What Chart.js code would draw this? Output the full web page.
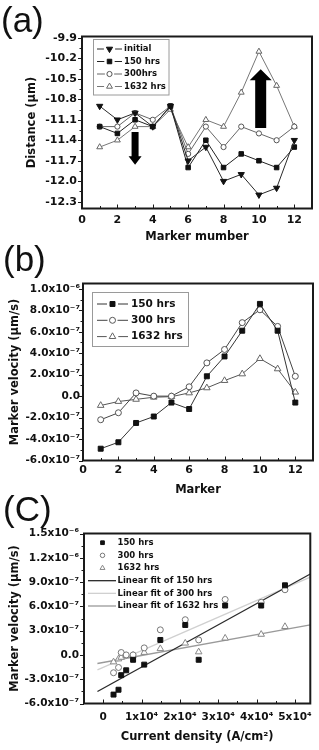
<!DOCTYPE html>
<html>
<head>
<meta charset="utf-8">
<script src="https://cdn.jsdelivr.net/npm/chart.js@4.4.1/dist/chart.umd.min.js"></script>
<style>
  body { margin: 0; background: #fff; }
  #page { position: relative; width: 319px; height: 750px; overflow: hidden; }
  canvas { position: absolute; left: 0; }
  .tag { position: absolute; font-family: "Liberation Sans", Arial, sans-serif; font-size: 35px; line-height: 35px; color: #111; }
</style>
</head>
<body>
<div id="page">
  <canvas id="chartA" width="319" height="245" style="top:0"></canvas>
  <canvas id="chartB" width="319" height="252" style="top:245px"></canvas>
  <canvas id="chartC" width="319" height="253" style="top:497px"></canvas>
  <div class="tag" style="left:1px;top:2px">(a)</div>
  <div class="tag" style="left:3px;top:241px">(b)</div>
  <div class="tag" style="left:3px;top:491px">(C)</div>
</div>
<script>
const font = 'DejaVu Sans';

// panel (a): distance of each marker
const markers = [1, 2, 3, 4, 5, 6, 7, 8, 9, 10, 11, 12];
const distInitial = [-10.9, -11.1, -11.0, -11.2, -10.9, -11.7, -11.5, -12.0, -11.9, -12.2, -12.1, -11.4];
const dist150 = [-11.2, -11.3, -11.1, -11.2, -10.9, -11.8, -11.4, -11.8, -11.6, -11.7, -11.8, -11.5];
const dist300 = [-11.2, -11.2, -11.0, -11.1, -10.9, -11.6, -11.2, -11.5, -11.2, -11.3, -11.4, -11.2];
const dist1632 = [-11.5, -11.4, -11.2, -11.2, -10.95, -11.5, -11.1, -11.2, -10.7, -10.1, -10.6, -11.2];
const xTicksAB = [0, 2, 4, 6, 8, 10, 12];
const yTicksA = [-12.3, -12.0, -11.7, -11.4, -11.1, -10.8, -10.5, -10.2, -9.9];
// the two black arrows, in data units
const arrowsA = [
  { x: 3, from: -11.28, to: -11.76 },
  { x: 10.1, from: -11.22, to: -10.36 }
];

// panel (b): marker velocity
const vel150 = [-4.9e-7, -4.3e-7, -2.5e-7, -1.9e-7, -0.6e-7, -1.2e-7, 1.85e-7, 3.7e-7, 6.1e-7, 8.6e-7, 6.1e-7, -0.6e-7];
const vel300 = [-2.2e-7, -1.55e-7, 0.3e-7, 0, 0, 0.87e-7, 3.1e-7, 4.35e-7, 6.85e-7, 8.05e-7, 6.5e-7, 1.85e-7];
const vel1632 = [-0.87e-7, -0.5e-7, -0.3e-7, -0.1e-7, -0.05e-7, 0.3e-7, 0.77e-7, 1.45e-7, 2.07e-7, 3.5e-7, 2.54e-7, 0.37e-7];
const yTicksB = [-6e-7, -4e-7, -2e-7, 0, 2e-7, 4e-7, 6e-7, 8e-7, 1e-6];
const yLabelsB = ['-6.0x10⁻⁷', '-4.0x10⁻⁷', '-2.0x10⁻⁷', '0.0', '2.0x10⁻⁷', '4.0x10⁻⁷', '6.0x10⁻⁷', '8.0x10⁻⁷', '1.0x10⁻⁶'];

// panel (c): velocity against current density (same markers)
const currentDensity = [2700, 4000, 4700, 6000, 7800, 10700, 14900, 21400, 31800, 47400, 41200, 24900];
const fitX = [-1500, 54000];
const fit150 = [-4.52e-7, 1.0e-6];
const fit300 = [-1.85e-7, 9.6e-7];
const fit1632 = [-1.06e-7, 3.7e-7];
const xTicksC = [0, 1e4, 2e4, 3e4, 4e4, 5e4];
const xLabelsC = ['0', '1x10⁴', '2x10⁴', '3x10⁴', '4x10⁴', '5x10⁴'];
const yTicksC = [-6e-7, -3e-7, 0, 3e-7, 6e-7, 9e-7, 1.2e-6, 1.5e-6];
const yLabelsC = ['-6.0x10⁻⁷', '-3.0x10⁻⁷', '0.0', '3.0x10⁻⁷', '6.0x10⁻⁷', '9.0x10⁻⁷', '1.2x10⁻⁶', '1.5x10⁻⁶'];

const pts = (xs, ys) => xs.map((x, i) => ({ x: x, y: ys[i] }));

function axis(o) {
  return {
    type: 'linear',
    min: o.min,
    max: o.max,
    afterBuildTicks: (s) => { s.ticks = o.ticks.map(v => ({ value: v })); },
    afterFit: (s) => { if (s.isHorizontal()) s.height = o.size; else s.width = o.size; },
    grid: { display: false, drawTicks: false },
    border: { display: false },
    ticks: {
      padding: o.pad, color: '#111', maxRotation: 0, autoSkip: false,
      font: { family: font, size: o.fontSize || 11, weight: 'bold' },
      callback: (v, i) => o.labels ? o.labels[i] : Number(v).toFixed(o.fixed || 0)
    },
    title: { display: true, text: o.title, padding: 0, color: '#111', font: { family: font, size: 11.5, weight: 'bold' } }
  };
}

// box frame and small Origin-style ticks
const frameTicks = {
  id: 'frameTicks',
  afterDatasetsDraw(chart) {
    const { ctx, chartArea: a } = chart;
    ctx.save();
    ctx.strokeStyle = '#1a1a1a';
    ctx.lineWidth = 1;
    [chart.scales.x, chart.scales.y].forEach(s => {
      const vals = s.ticks.map(t => t.value);
      const minor = vals.slice(1).map((v, i) => (v + vals[i]) / 2);
      ctx.beginPath();
      [[vals, 4], [minor, 2.5]].forEach(([list, len]) => {
        list.forEach(v => {
          const p = Math.round(s.getPixelForValue(v)) + 0.5;
          if (s.isHorizontal()) { ctx.moveTo(p, a.bottom); ctx.lineTo(p, a.bottom - len); }
          else { ctx.moveTo(a.left, p); ctx.lineTo(a.left - len, p); }
        });
      });
      ctx.stroke();
    });
    ctx.lineWidth = 2;
    ctx.strokeRect(a.left, a.top, a.right - a.left, a.bottom - a.top);
    ctx.restore();
  }
};

// legend drawn inside the plot, Origin style
const boxLegend = {
  id: 'boxLegend',
  afterDraw(chart, args, o) {
    const ctx = chart.ctx;
    ctx.save();
    if (o.frame) {
      ctx.strokeStyle = '#9a9a9a';
      ctx.lineWidth = 1;
      ctx.strokeRect(o.frame[0], o.frame[1], o.frame[2], o.frame[3]);
    }
    ctx.font = 'bold ' + o.size + 'px "' + font + '"';
    ctx.textBaseline = 'middle';
    chart.data.datasets.forEach((ds, i) => {
      const y = o.y + i * o.step;
      const r = ds.pointRadius || 0;
      if (ds.showLine !== false) {
        ctx.strokeStyle = ds.borderColor;
        ctx.lineWidth = ds.borderWidth;
        ctx.beginPath();
        if (r > 0) {
          ctx.moveTo(o.lineFrom, y); ctx.lineTo(o.mark - r - 2, y);
          ctx.moveTo(o.mark + r + 2, y); ctx.lineTo(o.lineTo, y);
        } else {
          ctx.moveTo(o.lineFrom, y); ctx.lineTo(o.lineTo, y);
        }
        ctx.stroke();
      }
      if (r > 0) {
        ctx.fillStyle = ds.pointBackgroundColor;
        ctx.strokeStyle = ds.pointBorderColor;
        ctx.lineWidth = ds.pointBorderWidth;
        Chart.helpers.drawPoint(ctx, {
          pointStyle: ds.pointStyle, rotation: ds.pointRotation || 0,
          radius: r * (o.markScale || 1), borderWidth: ds.pointBorderWidth
        }, o.mark, y);
      }
      ctx.fillStyle = '#111';
      ctx.fillText(ds.label, o.text, y);
    });
    ctx.restore();
  }
};

const arrows = {
  id: 'arrows',
  afterDatasetsDraw(chart, args, o) {
    const { ctx, scales: { x, y } } = chart;
    ctx.save();
    ctx.fillStyle = '#000';
    o.items.forEach((a, i) => {
      const st = o.styles[i];
      const px = x.getPixelForValue(a.x);
      const y0 = y.getPixelForValue(a.from), y1 = y.getPixelForValue(a.to);
      const yb = y1 - Math.sign(y1 - y0) * st.head;
      ctx.beginPath();
      ctx.moveTo(px - st.shaft / 2, y0);
      ctx.lineTo(px + st.shaft / 2, y0);
      ctx.lineTo(px + st.shaft / 2, yb);
      ctx.lineTo(px + st.headW / 2, yb);
      ctx.lineTo(px, y1);
      ctx.lineTo(px - st.headW / 2, yb);
      ctx.lineTo(px - st.shaft / 2, yb);
      ctx.closePath();
      ctx.fill();
    });
    ctx.restore();
  }
};

function series(label, data, style) {
  return Object.assign({
    label: label, data: data, type: 'line', fill: false, tension: 0,
    borderWidth: 1, pointBorderWidth: 1, showLine: true
  }, style);
}

const filled = (c) => ({ pointBackgroundColor: c, pointBorderColor: c });
const hollow = (c) => ({ pointBackgroundColor: '#fff', pointBorderColor: c });

const base = {
  responsive: false,
  animation: false,
  events: [],
  plugins: { legend: { display: false }, tooltip: { enabled: false } }
};

// (a)
new Chart(document.getElementById('chartA'), {
  type: 'line',
  data: {
    datasets: [
      series('initial', pts(markers, distInitial), Object.assign({ borderColor: '#2a2a2a', pointStyle: 'triangle', pointRotation: 180, pointRadius: 3.6 }, filled('#111'))),
      series('150 hrs', pts(markers, dist150), Object.assign({ borderColor: '#222', pointStyle: 'rect', pointRadius: 3.2 }, filled('#111'))),
      series('300hrs', pts(markers, dist300), Object.assign({ borderColor: '#666', pointStyle: 'circle', pointRadius: 2.6 }, hollow('#555'))),
      series('1632 hrs', pts(markers, dist1632), Object.assign({ borderColor: '#777', pointStyle: 'triangle', pointRadius: 3.4 }, hollow('#666')))
    ]
  },
  options: Object.assign({}, base, {
    layout: { padding: { left: 25, right: 7, top: 36.5, bottom: 1 } },
    scales: {
      x: axis({ min: 0, max: 13, ticks: xTicksAB, size: 35.5, pad: 5, title: 'Marker mumber' }),
      y: axis({ min: -12.4, max: -9.88, ticks: yTicksA, size: 57, pad: 5, fixed: 1, title: 'Distance (μm)' })
    },
    plugins: Object.assign({}, base.plugins, {
      boxLegend: { frame: [93.5, 39.5, 75.5, 55.5], size: 8.5, y: 49, step: 12.5, lineFrom: 97, lineTo: 122, mark: 109.5, text: 124 },
      arrows: { items: arrowsA, styles: [{ shaft: 7, headW: 13, head: 8.5 }, { shaft: 11, headW: 22, head: 11 }] }
    })
  }),
  plugins: [frameTicks, arrows, boxLegend]
});

// (b)
new Chart(document.getElementById('chartB'), {
  type: 'line',
  data: {
    datasets: [
      series('150 hrs', pts(markers, vel150), Object.assign({ borderColor: '#333', pointStyle: 'rect', pointRadius: 3.5 }, filled('#111'))),
      series('300 hrs', pts(markers, vel300), Object.assign({ borderColor: '#444', pointStyle: 'circle', pointRadius: 3 }, hollow('#555'))),
      series('1632 hrs', pts(markers, vel1632), Object.assign({ borderColor: '#555', pointStyle: 'triangle', pointRadius: 3.8 }, hollow('#666')))
    ]
  },
  options: Object.assign({}, base, {
    layout: { padding: { left: 8.5, right: 6, top: 38.5, bottom: 0 } },
    scales: {
      x: axis({ min: 0, max: 13, ticks: xTicksAB, size: 36.5, pad: 3, title: 'Marker' }),
      y: axis({ min: -6e-7, max: 1.05e-6, ticks: yTicksB, labels: yLabelsB, size: 74.5, pad: 3, fontSize: 10.5, title: 'Marker velocity (μm/s)' })
    },
    plugins: Object.assign({}, base.plugins, {
      boxLegend: { frame: [92.5, 47.5, 96, 54], size: 10.5, y: 59, step: 16.3, lineFrom: 97, lineTo: 128, mark: 112.5, text: 131 }
    })
  }),
  plugins: [frameTicks, boxLegend]
});

// (c)
new Chart(document.getElementById('chartC'), {
  type: 'scatter',
  data: {
    datasets: [
      series('150 hrs', pts(currentDensity, vel150), Object.assign({ showLine: false, borderColor: '#111', pointStyle: 'rect', pointRadius: 3.5 }, filled('#111'))),
      series('300 hrs', pts(currentDensity, vel300), Object.assign({ showLine: false, borderColor: '#777', pointStyle: 'circle', pointRadius: 3 }, hollow('#777'))),
      series('1632 hrs', pts(currentDensity, vel1632), Object.assign({ showLine: false, borderColor: '#888', pointStyle: 'triangle', pointRadius: 3.8 }, hollow('#888'))),
      series('Linear fit of 150 hrs', pts(fitX, fit150), { borderColor: '#2a2a2a', borderWidth: 1.3, pointRadius: 0 }),
      series('Linear fit of 300 hrs', pts(fitX, fit300), { borderColor: '#d0d0d0', borderWidth: 1.3, pointRadius: 0 }),
      series('Linear fit of 1632 hrs', pts(fitX, fit1632), { borderColor: '#9a9a9a', borderWidth: 1.3, pointRadius: 0 })
    ]
  },
  options: Object.assign({}, base, {
    layout: { padding: { left: 8.5, right: 6, top: 36.5, bottom: 6 } },
    scales: {
      x: axis({ min: -5000, max: 54000, ticks: xTicksC, labels: xLabelsC, size: 40.5, pad: 7, fontSize: 10.5, title: 'Current density (A/cm²)' }),
      y: axis({ min: -6e-7, max: 1.5e-6, ticks: yTicksC, labels: yLabelsC, size: 75.5, pad: 5, fontSize: 10.5, title: 'Marker velocity (μm/s)' })
    },
    plugins: Object.assign({}, base.plugins, {
      boxLegend: { size: 8.5, y: 45.7, step: 12.66, lineFrom: 88, lineTo: 116, mark: 102.5, markScale: 0.75, text: 117.5 }
    })
  }),
  plugins: [frameTicks, boxLegend]
});
</script>
</body>
</html>
